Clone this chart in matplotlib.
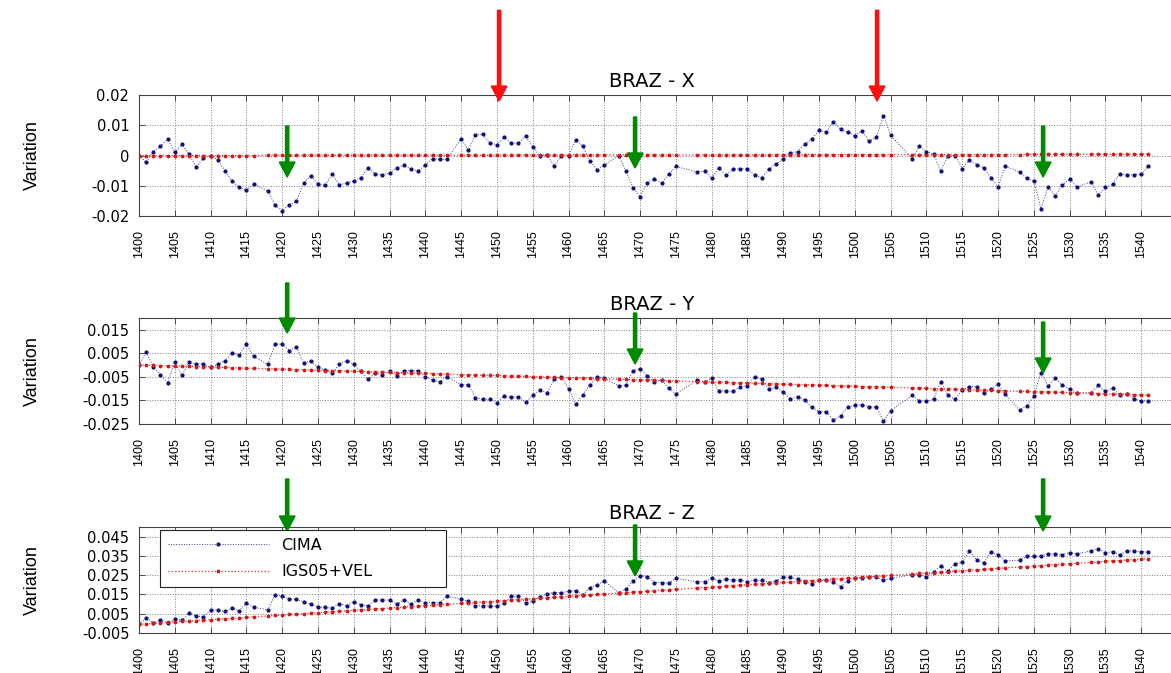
import matplotlib.pyplot as plt
from matplotlib.patches import FancyArrow
from matplotlib.ticker import FixedLocator

# --- data: daily solutions, days without a solution are skipped ---
missing_days = [1417, 1444, 1466, 1476, 1477, 1506, 1507, 1522, 1532]
days = [d for d in range(1400, 1542) if d not in missing_days]

cima_x = [
    # 1400-1416
    0.0, -0.0022, 0.0013, 0.0030, 0.0055, 0.0011, 0.0037, 0.0004, -0.0039, -0.0007,
    -0.0003, -0.0014, -0.0051, -0.0084, -0.0105, -0.0115, -0.0095,
    # 1418-1443
    -0.0117, -0.0163, -0.0182, -0.0163, -0.0152, -0.0091, -0.0067, -0.0095, -0.0099, -0.0062,
    -0.0097, -0.0091, -0.0084, -0.0073, -0.0040, -0.0062, -0.0064, -0.0058, -0.0040, -0.0032,
    -0.0044, -0.0052, -0.0031, -0.0010, -0.0013, -0.0013,
    # 1445-1465
    0.0056, 0.0018, 0.0069, 0.0070, 0.0041, 0.0036, 0.0061, 0.0041, 0.0041, 0.0065,
    0.0028, -0.0001, 0.0002, -0.0034, 0.0000, 0.0000, 0.0052, 0.0030, -0.0018, -0.0047,
    -0.0032,
    # 1467-1475
    0.0000, -0.0050, -0.0106, -0.0136, -0.0090, -0.0077, -0.0091, -0.0062, -0.0036,
    # 1478-1505
    -0.0055, -0.0051, -0.0074, -0.0042, -0.0065, -0.0045, -0.0044, -0.0045, -0.0065, -0.0073,
    -0.0045, -0.0027, -0.0013, 0.0008, 0.0013, 0.0037, 0.0055, 0.0083, 0.0077, 0.0112,
    0.0087, 0.0077, 0.0065, 0.0082, 0.0047, 0.0060, 0.0132, 0.0067,
    # 1508-1521
    -0.0011, 0.0031, 0.0013, 0.0004, -0.0051, 0.0000, 0.0000, -0.0043, -0.0014, -0.0031,
    -0.0041, -0.0073, -0.0105, -0.0035,
    # 1523-1531
    -0.0054, -0.0076, -0.0084, -0.0176, -0.0104, -0.0133, -0.0097, -0.0078, -0.0104,
    # 1533-1541
    -0.0087, -0.0131, -0.0105, -0.0095, -0.0061, -0.0065, -0.0063, -0.0062, -0.0035,
]

igs_x = [
    0.0, 0.0, 0.0, 0.0, 0.0, 0.0, 0.0, 0.0, 0.0, 0.0,
    0.0, 0.0, 0.0, 0.0, 0.0, 0.0, 0.0,
    0.0001, 0.0001, 0.0001, 0.0001, 0.0001, 0.0001, 0.0001, 0.0001, 0.0001, 0.0001,
    0.0001, 0.0001, 0.0001, 0.0001, 0.0001, 0.0001, 0.0001, 0.0001, 0.0001, 0.0001,
    0.0001, 0.0001, 0.0001, 0.0001, 0.0001, 0.0001,
    0.0001, 0.0001, 0.0001, 0.0001, 0.0001, 0.0001, 0.0001, 0.0001, 0.0002, 0.0002,
    0.0002, 0.0002, 0.0002, 0.0002, 0.0002, 0.0002, 0.0002, 0.0002, 0.0002, 0.0002,
    0.0002,
    0.0002, 0.0002, 0.0002, 0.0002, 0.0002, 0.0002, 0.0002, 0.0002, 0.0002,
    0.0002, 0.0002, 0.0002, 0.0002, 0.0002, 0.0002, 0.0002, 0.0002, 0.0002, 0.0002,
    0.0002, 0.0003, 0.0003, 0.0003, 0.0003, 0.0003, 0.0003, 0.0003, 0.0003, 0.0003,
    0.0003, 0.0003, 0.0003, 0.0003, 0.0003, 0.0003, 0.0003, 0.0003,
    0.0003, 0.0003, 0.0003, 0.0003, 0.0003, 0.0003, 0.0003, 0.0003, 0.0003, 0.0003,
    0.0003, 0.0003, 0.0003, 0.0003,
    0.0003, 0.0004, 0.0004, 0.0004, 0.0004, 0.0004, 0.0004, 0.0004, 0.0004,
    0.0004, 0.0004, 0.0004, 0.0004, 0.0004, 0.0004, 0.0004, 0.0004, 0.0004,
]

cima_y = [
    0.0, 0.0056, -0.0009, -0.0041, -0.0074, 0.0012, -0.0043, 0.0012, 0.0005, 0.0005,
    -0.0010, 0.0004, 0.0019, 0.0052, 0.0044, 0.0089, 0.0037,
    0.0004, 0.0089, 0.0089, 0.0062, 0.0076, 0.0008, 0.0019, -0.0010, -0.0020, -0.0034,
    0.0004, 0.0019, 0.0004, -0.0027, -0.0060, -0.0034, -0.0040, -0.0027, -0.0045, -0.0024,
    -0.0023, -0.0023, -0.0051, -0.0063, -0.0070, -0.0049,
    -0.0084, -0.0083, -0.0138, -0.0145, -0.0145, -0.0159, -0.0131, -0.0137, -0.0135, -0.0158,
    -0.0128, -0.0107, -0.0117, -0.0059, -0.0050, -0.0100, -0.0166, -0.0125, -0.0083, -0.0049,
    -0.0056,
    -0.0088, -0.0085, -0.0024, -0.0015, -0.0046, -0.0071, -0.0063, -0.0098, -0.0122,
    -0.0063, -0.0071, -0.0056, -0.0110, -0.0108, -0.0111, -0.0091, -0.0087, -0.0049, -0.0060,
    -0.0102, -0.0094, -0.0115, -0.0144, -0.0134, -0.0148, -0.0179, -0.0198, -0.0198, -0.0233,
    -0.0215, -0.0178, -0.0171, -0.0168, -0.0178, -0.0176, -0.0239, -0.0193,
    -0.0129, -0.0152, -0.0154, -0.0145, -0.0070, -0.0129, -0.0145, -0.0105, -0.0091, -0.0091,
    -0.0120, -0.0101, -0.0081, -0.0124,
    -0.0190, -0.0173, -0.0131, -0.0032, -0.0088, -0.0056, -0.0085, -0.0101, -0.0118,
    -0.0118, -0.0085, -0.0112, -0.0098, -0.0126, -0.0123, -0.0142, -0.0152, -0.0153,
]

igs_y = [
    0.0001, 0.0000, -0.0001, -0.0002, -0.0003, -0.0004, -0.0004, -0.0005, -0.0006, -0.0007,
    -0.0008, -0.0009, -0.0010, -0.0011, -0.0012, -0.0013, -0.0014,
    -0.0015, -0.0016, -0.0017, -0.0018, -0.0019, -0.0020, -0.0021, -0.0022, -0.0023, -0.0024,
    -0.0024, -0.0025, -0.0026, -0.0027, -0.0028, -0.0029, -0.0030, -0.0031, -0.0032, -0.0033,
    -0.0034, -0.0034, -0.0035, -0.0036, -0.0037, -0.0038,
    -0.0040, -0.0041, -0.0042, -0.0043, -0.0043, -0.0044, -0.0045, -0.0046, -0.0047, -0.0048,
    -0.0049, -0.0050, -0.0051, -0.0052, -0.0053, -0.0053, -0.0054, -0.0055, -0.0056, -0.0057,
    -0.0058,
    -0.0060, -0.0061, -0.0062, -0.0063, -0.0063, -0.0064, -0.0065, -0.0066, -0.0067,
    -0.0070, -0.0071, -0.0072, -0.0073, -0.0073, -0.0074, -0.0075, -0.0076, -0.0077, -0.0078,
    -0.0079, -0.0080, -0.0081, -0.0082, -0.0083, -0.0083, -0.0084, -0.0085, -0.0086, -0.0087,
    -0.0088, -0.0089, -0.0090, -0.0091, -0.0092, -0.0093, -0.0093, -0.0094,
    -0.0097, -0.0098, -0.0099, -0.0100, -0.0101, -0.0102, -0.0103, -0.0103, -0.0104, -0.0105,
    -0.0106, -0.0107, -0.0108, -0.0109,
    -0.0111, -0.0112, -0.0113, -0.0113, -0.0114, -0.0115, -0.0116, -0.0117, -0.0118,
    -0.0120, -0.0121, -0.0122, -0.0122, -0.0123, -0.0124, -0.0125, -0.0126, -0.0127,
]

cima_z = [
    -0.0005, 0.0028, 0.0002, 0.0019, 0.0002, 0.0021, 0.0017, 0.0052, 0.0038, 0.0034,
    0.0069, 0.0069, 0.0062, 0.0079, 0.0066, 0.0105, 0.0083,
    0.0071, 0.0148, 0.0140, 0.0126, 0.0124, 0.0112, 0.0100, 0.0083, 0.0083, 0.0079,
    0.0103, 0.0091, 0.0112, 0.0097, 0.0091, 0.0121, 0.0121, 0.0121, 0.0100, 0.0122,
    0.0100, 0.0120, 0.0108, 0.0108, 0.0108, 0.0140,
    0.0126, 0.0114, 0.0091, 0.0091, 0.0091, 0.0088, 0.0105, 0.0140, 0.0140, 0.0108,
    0.0114, 0.0138, 0.0152, 0.0160, 0.0160, 0.0166, 0.0169, 0.0148, 0.0186, 0.0200,
    0.0221,
    0.0159, 0.0178, 0.0221, 0.0247, 0.0243, 0.0212, 0.0212, 0.0209, 0.0233,
    0.0216, 0.0216, 0.0234, 0.0221, 0.0229, 0.0224, 0.0224, 0.0217, 0.0224, 0.0224,
    0.0212, 0.0221, 0.0238, 0.0238, 0.0229, 0.0216, 0.0203, 0.0224, 0.0224, 0.0216,
    0.0191, 0.0221, 0.0236, 0.0234, 0.0241, 0.0241, 0.0224, 0.0233,
    0.0253, 0.0253, 0.0241, 0.0269, 0.0298, 0.0272, 0.0310, 0.0316, 0.0376, 0.0331,
    0.0314, 0.0369, 0.0357, 0.0324,
    0.0328, 0.0348, 0.0348, 0.0348, 0.0362, 0.0359, 0.0357, 0.0367, 0.0360,
    0.0376, 0.0388, 0.0366, 0.0372, 0.0355, 0.0376, 0.0376, 0.0372, 0.0371,
]

igs_z = [
    -0.0005, -0.0003, 0.0000, 0.0002, 0.0005, 0.0007, 0.0010, 0.0012, 0.0014, 0.0017,
    0.0019, 0.0022, 0.0024, 0.0026, 0.0029, 0.0031, 0.0034,
    0.0039, 0.0041, 0.0043, 0.0046, 0.0048, 0.0051, 0.0053, 0.0055, 0.0058, 0.0060,
    0.0063, 0.0065, 0.0068, 0.0070, 0.0072, 0.0075, 0.0077, 0.0080, 0.0082, 0.0084,
    0.0087, 0.0089, 0.0092, 0.0094, 0.0097, 0.0099,
    0.0104, 0.0106, 0.0109, 0.0111, 0.0113, 0.0116, 0.0118, 0.0121, 0.0123, 0.0126,
    0.0128, 0.0130, 0.0133, 0.0135, 0.0138, 0.0140, 0.0143, 0.0145, 0.0147, 0.0150,
    0.0152,
    0.0157, 0.0159, 0.0162, 0.0164, 0.0167, 0.0169, 0.0172, 0.0174, 0.0176,
    0.0184, 0.0186, 0.0188, 0.0191, 0.0193, 0.0196, 0.0198, 0.0201, 0.0203, 0.0205,
    0.0208, 0.0210, 0.0213, 0.0215, 0.0217, 0.0220, 0.0222, 0.0225, 0.0227, 0.0230,
    0.0232, 0.0234, 0.0237, 0.0239, 0.0242, 0.0244, 0.0246, 0.0249,
    0.0256, 0.0259, 0.0261, 0.0263, 0.0266, 0.0268, 0.0271, 0.0273, 0.0275, 0.0278,
    0.0280, 0.0283, 0.0285, 0.0288,
    0.0292, 0.0295, 0.0297, 0.0300, 0.0302, 0.0305, 0.0307, 0.0309, 0.0312,
    0.0317, 0.0319, 0.0321, 0.0324, 0.0326, 0.0329, 0.0331, 0.0334, 0.0336,
]

titles = ['BRAZ - X', 'BRAZ - Y', 'BRAZ - Z']
x_ticks = list(range(1400, 1550, 5))
y_ticks = [
    [0.02, 0.01, 0.0, -0.01, -0.02],
    [0.015, 0.005, -0.005, -0.015, -0.025],
    [0.045, 0.035, 0.025, 0.015, 0.005, -0.005],
]
y_tick_labels = [
    ['0.02', '0.01', '0', '-0.01', '-0.02'],
    ['0.015', '0.005', '-0.005', '-0.015', '-0.025'],
    ['0.045', '0.035', '0.025', '0.015', '0.005', '-0.005'],
]
y_limits = [(-0.02, 0.02), (-0.025, 0.02), (-0.005, 0.05)]

# days marked by arrows
green_days = [1420.7, 1469.3, 1526.3]
red_days = [1450.3, 1503.1]

# --- layout (figure pixels, 1171 x 673) ---
W, H = 1171, 673
panel_px = [(95, 216), (318, 424), (527, 633)]   # top, bottom
left_px, right_px = 139, 1177
# green arrow (tail, tip) in axes fraction, per panel
green_y = [
    [(0.744, 0.322), (0.818, 0.397), (0.744, 0.322)],
    [(1.33, 0.858), (1.047, 0.566), (0.962, 0.481)],
    [(1.453, 0.962), (1.019, 0.538), (1.453, 0.962)],
]
red_y = (1.70, 0.95)

arial = ['Liberation Sans', 'DejaVu Sans']

fig = plt.figure(figsize=(W / 100, H / 100), dpi=100)
series = [(cima_x, igs_x), (cima_y, igs_y), (cima_z, igs_z)]

for i, (cima, igs) in enumerate(series):
    top, bot = panel_px[i]
    ax = fig.add_axes([left_px / W, 1 - bot / H, (right_px - left_px) / W, (bot - top) / H])
    ax.plot(days, cima, linestyle=':', color='#3a3a8a', lw=0.7, marker='.',
            ms=4, mfc='#10107a', mec='#10107a', label='CIMA', zorder=3)
    ax.plot(days, igs, linestyle=':', color='#e03030', lw=0.9, marker='.',
            ms=3.5, mfc='#d81818', mec='#d81818', label='IGS05+VEL', zorder=4)

    ax.set_xlim(1400, 1545)
    ax.set_ylim(*y_limits[i])
    ax.xaxis.set_major_locator(FixedLocator(x_ticks))
    ax.set_xticklabels([str(t) for t in x_ticks], rotation=90, family=arial, fontsize=9)
    ax.yaxis.set_major_locator(FixedLocator(y_ticks[i]))
    ax.set_yticklabels(y_tick_labels[i], fontsize=10.5)
    ax.tick_params(direction='in', length=4, width=0.6, top=True, right=True, color='#333333')
    ax.tick_params(axis='x', pad=10)
    ax.tick_params(axis='y', pad=7)
    ax.grid(True, linestyle=':', color='#808080', lw=0.7)
    ax.set_axisbelow(True)
    for sp in ax.spines.values():
        sp.set_color('#444444')
        sp.set_linewidth(0.8)

    ax.set_title(titles[i], fontsize=14, pad=6, x=0.494)
    ax.set_ylabel('Variation', family=arial, fontsize=13)
    ax.yaxis.set_label_coords((32 - left_px) / (right_px - left_px), 0.5)
    ax.yaxis.label.set_va('center')

    trans = ax.get_xaxis_transform()
    hl = 15 / (bot - top)
    for day, (y0, y1) in zip(green_days, green_y[i]):
        ax.add_patch(FancyArrow(day, y0, 0, y1 - y0, width=0.45, head_width=2.2,
                                head_length=hl, length_includes_head=True,
                                color='#008a00', transform=trans, clip_on=False, zorder=6))
    if i == 0:
        for day in red_days:
            ax.add_patch(FancyArrow(day, red_y[0], 0, red_y[1] - red_y[0], width=0.45,
                                    head_width=2.2, head_length=hl, length_includes_head=True,
                                    color='#ff1010', transform=trans, clip_on=False, zorder=6))
    if i == 2:
        leg = ax.legend(loc='upper left', bbox_to_anchor=(0.0202, 0.377, 0.276, 0.595),
                        mode='expand', borderaxespad=0, fontsize=11.5, handlelength=6.3,
                        handletextpad=0.8, labelspacing=0.7, borderpad=0.5, numpoints=1,
                        fancybox=False, framealpha=1, edgecolor='#222222')
        leg.get_frame().set_linewidth(0.8)
        leg.set_zorder(7)

fig.savefig('out.png', dpi=100)
